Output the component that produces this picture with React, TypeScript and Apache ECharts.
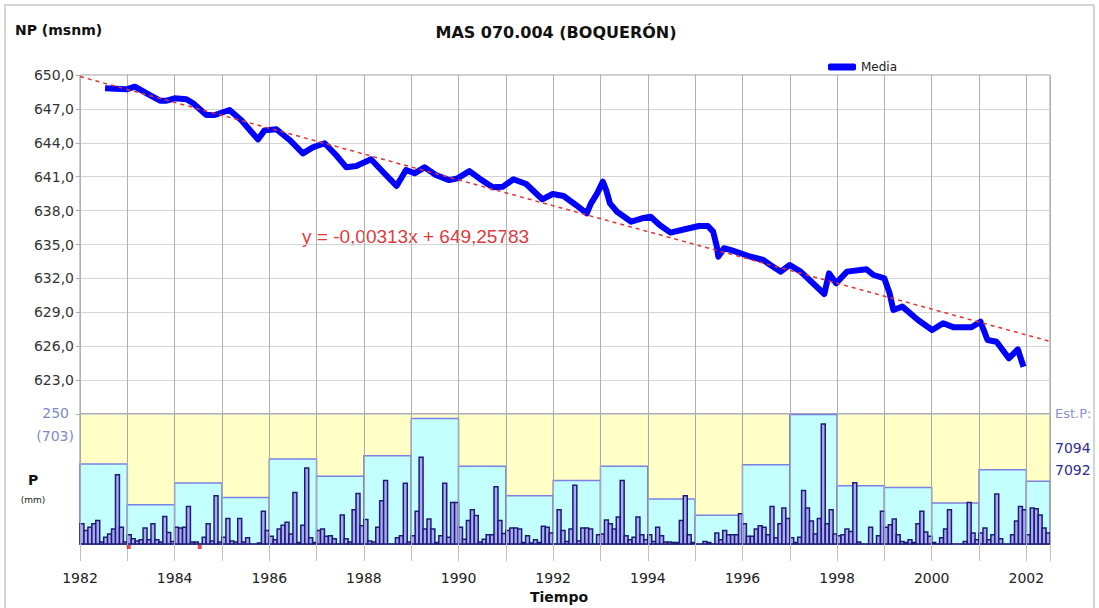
import React, { useEffect, useRef } from "react";
import * as echarts from "echarts";

// ---- Nivel piezométrico (Media) ----
const levelYears = [
  1982.53, 1982.98, 1983.16, 1983.41, 1983.69, 1983.83, 1984.0, 1984.25, 1984.39, 1984.67,
  1984.85, 1985.16, 1985.41, 1985.62, 1985.76, 1985.9, 1986.15, 1986.43, 1986.71, 1986.92,
  1987.17, 1987.41, 1987.63, 1987.84, 1988.15, 1988.43, 1988.69, 1988.89, 1989.07, 1989.28,
  1989.52, 1989.8, 1989.98, 1990.23, 1990.44, 1990.72, 1990.93, 1991.16, 1991.43, 1991.77,
  1991.99, 1992.22, 1992.48, 1992.71, 1992.8, 1992.93, 1993.05, 1993.12, 1993.2, 1993.35,
  1993.65, 1993.88, 1994.06, 1994.25, 1994.48, 1994.78, 1995.08, 1995.27, 1995.38, 1995.46,
  1995.49, 1995.61, 1995.76, 1996.13, 1996.44, 1996.59, 1996.81, 1997.0, 1997.23, 1997.49,
  1997.73, 1997.83, 1997.98, 1998.21, 1998.62, 1998.77, 1999.0, 1999.11, 1999.19, 1999.38,
  1999.71, 2000.01, 2000.24, 2000.47, 2000.84, 2001.03, 2001.18, 2001.37, 2001.63, 2001.82,
  2001.94,
];
const levelValues = [
  648.82, 648.73, 648.97, 648.38, 647.73, 647.73, 647.94, 647.85, 647.5, 646.46,
  646.46, 646.9, 646.0, 644.98, 644.3, 645.1, 645.2, 644.25, 643.07, 643.6,
  643.96, 642.92, 641.83, 641.95, 642.54, 641.3, 640.18, 641.6, 641.3, 641.83,
  641.15, 640.7, 640.85, 641.5, 640.85, 640.06, 640.1, 640.77, 640.35, 639.0,
  639.47, 639.29, 638.5, 637.76, 638.64, 639.53, 640.56, 639.82, 638.64, 637.9,
  637.02, 637.32, 637.46, 636.73, 636.05, 636.35, 636.64, 636.64, 636.14, 634.81,
  633.92, 634.67, 634.51, 633.98, 633.63, 633.19, 632.6, 633.19, 632.6, 631.57,
  630.62, 632.45, 631.57, 632.6, 632.81, 632.3, 632.0, 630.68, 629.2, 629.5,
  628.32, 627.43, 628.03, 627.67, 627.67, 628.17, 626.55, 626.4, 624.93, 625.72,
  624.18,
];

// ---- Recta de regresión (x en días desde la primera medida) ----
const trendSlopePerDay = -0.00313;
const trendIntercept = 649.25783;
const trendOriginYear = 1982.53;
const trendYears = [1982, 2002.5];

// ---- Precipitación ----
const rainYears = [
  1982, 1983, 1984, 1985, 1986, 1987, 1988, 1989, 1990, 1991, 1992,
  1993, 1994, 1995, 1996, 1997, 1998, 1999, 2000, 2001, 2002,
];
const monthlyRain: number[][] = [
  [39, 26, 32, 39, 45, 4, 13, 19, 29, 133, 32, 4],
  [18, 10, 6, 8, 31, 8, 39, 8, 4, 53, 22, 5],
  [32, 31, 32, 72, 4, 4, 0, 13, 39, 6, 93, 4],
  [13, 49, 6, 4, 49, 4, 12, 0, 0, 2, 63, 26],
  [15, 8, 29, 36, 42, 19, 99, 3, 36, 146, 12, 3],
  [26, 29, 15, 16, 10, 0, 56, 10, 4, 66, 97, 35],
  [47, 6, 4, 32, 83, 122, 0, 0, 12, 16, 117, 4],
  [16, 63, 167, 29, 48, 29, 3, 16, 117, 13, 80, 80],
  [32, 9, 45, 66, 55, 4, 9, 18, 18, 110, 45, 20],
  [26, 31, 31, 29, 3, 16, 2, 8, 3, 34, 32, 21],
  [0, 66, 26, 5, 29, 113, 6, 31, 31, 29, 0, 18],
  [19, 46, 39, 29, 52, 122, 16, 8, 13, 52, 18, 8],
  [18, 5, 32, 16, 4, 4, 3, 3, 45, 93, 18, 3],
  [0, 0, 5, 3, 0, 21, 8, 26, 18, 18, 18, 58],
  [39, 15, 15, 29, 35, 32, 18, 72, 12, 39, 69, 49],
  [12, 3, 13, 103, 69, 44, 19, 49, 231, 39, 66, 19],
  [16, 18, 29, 24, 118, 4, 0, 0, 32, 0, 16, 63],
  [32, 37, 48, 18, 5, 3, 8, 3, 39, 63, 23, 15],
  [3, 0, 12, 29, 66, 0, 0, 0, 5, 80, 21, 8],
  [21, 31, 8, 18, 96, 10, 0, 0, 18, 44, 72, 66],
  [18, 69, 68, 56, 31, 21],
];
const annualRain = [
  433, 212, 330, 252, 460, 366, 477, 678, 420, 261, 344,
  420, 243, 155, 429, 700, 315, 306, 222, 402, 339,
];
const missingMonths = [1983.03, 1984.53];

const X_MIN = 1982;
const X_MAX = 2002.5;
const NP_BASE = 620;
const P_MAX = 250;
const ANNUAL_MAX = 703;

export default function App() {
  const ref = useRef<HTMLDivElement>(null);

  useEffect(() => {
    if (!ref.current) return;
    const chart = echarts.init(ref.current, null, { renderer: "svg" });

    const lineData = levelYears.map((y, i) => [y, levelValues[i] - NP_BASE]);
    const trendData = trendYears.map((y) => [
      y,
      trendIntercept + trendSlopePerDay * (y - trendOriginYear) * 365.25 - NP_BASE,
    ]);
    const monthData: number[][] = [];
    rainYears.forEach((yr, i) => {
      monthlyRain[i].forEach((v, m) => monthData.push([yr + m / 12, v]));
    });
    const annualData = rainYears.map((yr, i) => [
      yr,
      (annualRain[i] * P_MAX) / ANNUAL_MAX,
      Math.min(1, X_MAX - yr),
    ]);

    const font = "DejaVu Sans";
    const option: any = {
      animation: false,
      backgroundColor: "#ffffff",
      legend: {
        data: [{ name: "Media", icon: "roundRect" }],
        left: 823,
        top: 56,
        itemWidth: 28,
        itemHeight: 7,
        textStyle: { fontFamily: font, fontSize: 12, color: "#222" },
      },
      grid: [
        {
          left: 80, right: 49, top: 75, height: 339,
          show: true, backgroundColor: "#ffffff", borderColor: "#9a9a9a", borderWidth: 1,
        },
        {
          left: 80, right: 49, top: 414, height: 130,
          show: true, backgroundColor: "#ffffc6", borderColor: "#8a8a8a", borderWidth: 1,
        },
      ],
      xAxis: [
        {
          type: "value", gridIndex: 0, min: X_MIN, max: X_MAX, interval: 1,
          axisLabel: { show: false }, axisTick: { show: false }, axisLine: { show: false },
          splitLine: { show: true, lineStyle: { color: "#b0b0b0", width: 1 } },
        },
        {
          type: "value", gridIndex: 1, min: X_MIN, max: X_MAX, interval: 1, z: 10,
          axisLine: { show: false },
          axisTick: { show: true, length: 17, lineStyle: { color: "#c0c0c0" } },
          splitLine: { show: true, lineStyle: { color: "#a8a8a8", width: 1 } },
          axisLabel: {
            margin: 27,
            fontFamily: font, fontSize: 14, color: "#222",
            formatter: (v: number) =>
              Number.isInteger(v) && v % 2 === 0 ? String(v) : "",
          },
        },
      ],
      yAxis: [
        {
          type: "value", gridIndex: 0, min: 0, max: 30, interval: 3,
          axisLine: { show: false },
          axisTick: { show: true, length: 4, lineStyle: { color: "#aaa" } },
          splitLine: { show: true, lineStyle: { color: "#d4d4d4" } },
          axisLabel: {
            margin: 6, fontFamily: font, fontSize: 14, color: "#333",
            formatter: (v: number) =>
              v === 0 ? "" : (v + NP_BASE).toFixed(1).replace(".", ","),
          },
        },
        {
          type: "value", gridIndex: 1, min: 0, max: P_MAX,
          axisLine: { show: false }, axisTick: { show: false },
          axisLabel: { show: false }, splitLine: { show: false },
        },
      ],
      series: [
        {
          name: "Media",
          type: "line",
          xAxisIndex: 0, yAxisIndex: 0,
          data: lineData,
          symbol: "none",
          color: "#0000ff",
          lineStyle: { color: "#0000ff", width: 6, join: "round" },
          z: 3,
        },
        {
          name: "Tendencia",
          type: "line",
          xAxisIndex: 0, yAxisIndex: 0,
          data: trendData,
          symbol: "none",
          lineStyle: { color: "#e03434", width: 1.5, type: [4, 4] },
          z: 4,
        },
        {
          name: "Anual",
          type: "custom",
          xAxisIndex: 1, yAxisIndex: 1,
          data: annualData,
          encode: { x: 0, y: 1 },
          z: 2,
          renderItem: (params: any, api: any) => {
            const x0 = api.value(0);
            const h = api.value(1);
            const w = api.value(2);
            const p0 = api.coord([x0, h]);
            const p1 = api.coord([x0 + w, 0]);
            return {
              type: "rect",
              shape: { x: p0[0], y: p0[1], width: p1[0] - p0[0], height: p1[1] - p0[1] },
              style: { fill: "#c4ffff", stroke: "#7c80e0", lineWidth: 1.5 },
            };
          },
        },
        {
          name: "Mensual",
          type: "custom",
          xAxisIndex: 1, yAxisIndex: 1,
          data: monthData,
          encode: { x: 0, y: 1 },
          z: 3,
          renderItem: (params: any, api: any) => {
            const t = api.value(0);
            const v = api.value(1);
            const p0 = api.coord([t, v]);
            const p1 = api.coord([t + 1 / 12, 0]);
            return {
              type: "rect",
              shape: { x: p0[0], y: p0[1], width: p1[0] - p0[0], height: p1[1] - p0[1] },
              style: { fill: "#aaaaf2", stroke: "#1c1c78", lineWidth: 1.5 },
            };
          },
        },
        {
          name: "Sin dato",
          type: "scatter",
          xAxisIndex: 1, yAxisIndex: 1,
          data: missingMonths.map((t) => [t, 0]),
          symbol: "rect",
          symbolSize: [4, 4],
          symbolOffset: [0, 3],
          itemStyle: { color: "#e02020" },
          z: 11,
        },
      ],
      graphic: [
        {
          type: "rect", silent: true, z: -1,
          shape: { x: 5, y: 5, width: 1089, height: 620 },
          style: { fill: "none", stroke: "#c8c8c8", lineWidth: 1.5 },
        },
        {
          type: "text", left: 15, top: 23,
          style: { text: "NP (msnm)", fontFamily: font, fontSize: 14, fontWeight: "bold", fill: "#111" },
        },
        {
          type: "text", x: 556, y: 32,
          style: {
            text: "MAS 070.004 (BOQUERÓN)", fontFamily: font, fontSize: 16, fontWeight: "bold",
            fill: "#111", textAlign: "center", textVerticalAlign: "middle",
          },
        },
        {
          type: "text", x: 302, y: 236,
          style: {
            text: "y = -0,00313x + 649,25783", fontFamily: "Liberation Sans", fontSize: 19,
            fill: "#e03a3e", textVerticalAlign: "middle",
          },
        },
        {
          type: "text", x: 69, y: 413,
          style: { text: "250", fontFamily: font, fontSize: 14, fill: "#7f88cc", textAlign: "right", textVerticalAlign: "middle" },
        },
        {
          type: "text", x: 74, y: 436,
          style: { text: "(703)", fontFamily: font, fontSize: 14, fill: "#7f88cc", textAlign: "right", textVerticalAlign: "middle" },
        },
        {
          type: "text", x: 33, y: 480,
          style: { text: "P", fontFamily: font, fontSize: 14, fontWeight: "bold", fill: "#111", textAlign: "center", textVerticalAlign: "middle" },
        },
        {
          type: "text", x: 33, y: 500,
          style: { text: "(mm)", fontFamily: font, fontSize: 9, fill: "#222", textAlign: "center", textVerticalAlign: "middle" },
        },
        {
          type: "text", x: 1055, y: 413,
          style: { text: "Est.P:", fontFamily: font, fontSize: 13, fill: "#8a92d0", textVerticalAlign: "middle" },
        },
        {
          type: "text", x: 1055, y: 448,
          style: { text: "7094", fontFamily: font, fontSize: 14, fill: "#2c2c92", textVerticalAlign: "middle" },
        },
        {
          type: "text", x: 1055, y: 470,
          style: { text: "7092", fontFamily: font, fontSize: 14, fill: "#2c2c92", textVerticalAlign: "middle" },
        },
        {
          type: "text", x: 559, y: 597,
          style: { text: "Tiempo", fontFamily: font, fontSize: 14, fontWeight: "bold", fill: "#111", textAlign: "center", textVerticalAlign: "middle" },
        },
      ],
    };

    chart.setOption(option);
    return () => chart.dispose();
  }, []);

  return (
    <div
      ref={ref}
      style={{ position: "fixed", left: 0, top: 0, width: 1099, height: 608, background: "#fff" }}
    />
  );
}
